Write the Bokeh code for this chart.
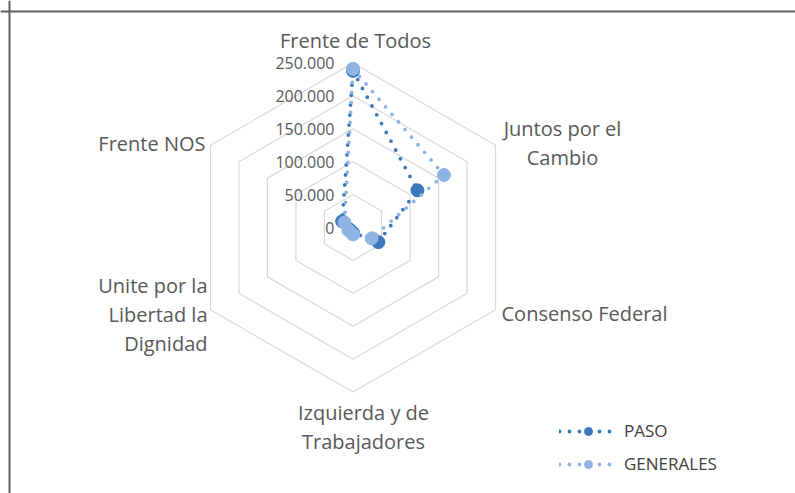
import numpy as np
from bokeh.plotting import figure
from bokeh.models import Range1d, Span, Legend, LegendItem
from bokeh.core.properties import value
from bokeh.embed import file_html
from bokeh.resources import INLINE

# ---------------- data ----------------
categories = ["Frente de Todos", "Juntos por el Cambio", "Consenso Federal",
              "Izquierda y de Trabajadores", "Unite por la Libertad la Dignidad",
              "Frente NOS"]
paso = [238000, 113000, 44500, 8000, 6000, 19000]
generales = [241000, 159500, 32700, 10500, 8000, 15000]
series_names = ["PASO", "GENERALES"]
ticks = [0, 50000, 100000, 150000, 200000, 250000]
tick_labels = ["0", "50.000", "100.000", "150.000", "200.000", "250.000"]
label_lines = [["Frente de Todos"], ["Juntos por el", "Cambio"], ["Consenso Federal"],
               ["Izquierda y de", "Trabajadores"], ["Unite por la", "Libertad la", "Dignidad"],
               ["Frente NOS"]]

# ---------------- layout ----------------
W, H = 795, 493
CX, CY = 352.5, 227.0          # page pixel position of radar centre
RMAX_PX = 164.6                # pixel radius of max ring
U = ticks[-1] / RMAX_PX        # data units per pixel
FONT = "Open Sans"


def X(px):
    return (px - CX) * U


def Y(py):
    return (CY - py) * U


n = len(categories)
angles = np.deg2rad(90 - 360.0 / n * np.arange(n))

p = figure(width=W, height=H, x_range=Range1d(X(0), X(W)), y_range=Range1d(Y(H), Y(0)),
           output_backend="svg", toolbar_location=None, min_border=0,
           x_axis_location=None, y_axis_location=None, outline_line_color=None,
           background_fill_color="white", border_fill_color="white")
p.grid.visible = False

# frame lines (top and left)
p.add_layout(Span(location=Y(11), dimension="width", line_color="#5f5f5f", line_width=2))
p.add_layout(Span(location=X(9), dimension="height", line_color="#5f5f5f", line_width=2))

# hexagonal grid rings
ring_xs, ring_ys = [], []
for t in ticks[1:]:
    ring_xs.append(list(t * np.cos(angles)) + [t * np.cos(angles[0])])
    ring_ys.append(list(t * np.sin(angles)) + [t * np.sin(angles[0])])
p.multi_line(ring_xs, ring_ys, line_color="#d9d9d9", line_width=1.2)

# tick labels along the top axis
p.text(x=[X(334)] * len(ticks), y=ticks, text=tick_labels, text_align="right",
       text_baseline="middle", text_font=value(FONT), text_font_size="16px",
       text_color="#595959")

# category labels
lab_anchor = [(355, 40, "center"), (562, 128, "center"), (501, 313, "left"),
              (363, 412, "center"), (207, 285, "right"), (205, 143, "right")]
LH = 29
for (ax, ay, al), lines in zip(lab_anchor, label_lines):
    p.text(x=[X(ax)] * len(lines), y=[Y(ay + k * LH) for k in range(len(lines))],
           text=lines, text_align=al, text_baseline="middle",
           text_font=value(FONT), text_font_size="20px", text_color="#595959")

# series
colors = ["#3a78bb", "#8fb3e2"]
items = []
for name, vals, c in zip(series_names, [paso, generales], colors):
    v = np.array(vals, dtype=float)
    xs = v * np.cos(angles)
    ys = v * np.sin(angles)
    lx = list(xs) + [xs[0]]
    ly = list(ys) + [ys[0]]
    lr = p.line(lx, ly, line_color=c, line_width=3.8, line_dash="0 10", line_cap="round")
    sr = p.scatter(xs, ys, size=13, fill_color=c, line_color=c)
    items.append(LegendItem(label=name, renderers=[lr, sr]))

legend = Legend(items=items, location=(559, 18), glyph_width=58, glyph_height=20,
                spacing=10, padding=0, margin=0, label_standoff=7,
                label_text_font=FONT, label_text_font_size="17px",
                label_text_color="#404040", border_line_color=None,
                background_fill_alpha=0)
p.add_layout(legend)

open("out.html", "w").write(file_html(p, INLINE))
